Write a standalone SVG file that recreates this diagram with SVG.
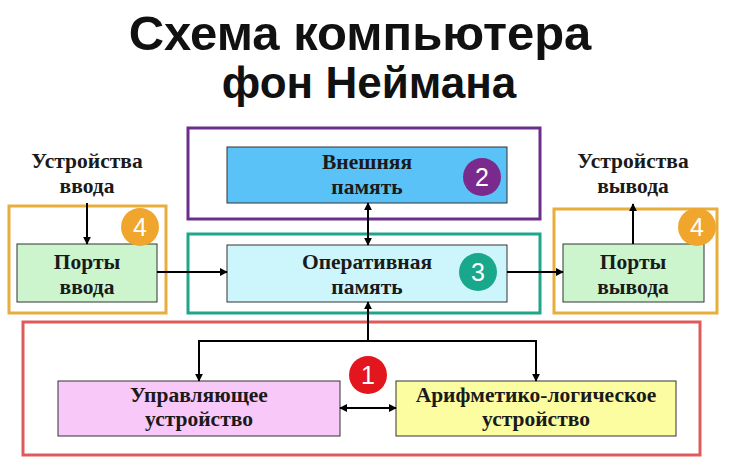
<svg xmlns="http://www.w3.org/2000/svg" width="730" height="470" viewBox="0 0 730 470">
<defs>
<marker id="ah" viewBox="0 0 10 10" refX="9" refY="5" markerWidth="8" markerHeight="8" markerUnits="userSpaceOnUse" orient="auto-start-reverse">
<path d="M0,0 L10,5 L0,10 Z" fill="#000"/>
</marker>
</defs>
<style>
.title{font-family:"Liberation Sans",Arial,sans-serif;font-weight:bold;font-size:49px;fill:#111;text-anchor:middle}
.lbl{font-family:"Liberation Serif","DejaVu Serif","Times New Roman",serif;font-weight:bold;font-size:21.5px;fill:#1a1a1a;text-anchor:middle}
.frame{fill:none;stroke-width:3}
.box{stroke:#333;stroke-width:1}
.badge{font-family:"Liberation Sans",Arial,sans-serif;font-size:25px;fill:#fff;text-anchor:middle}
.conn{stroke:#000;stroke-width:2;fill:none}
</style>
<rect width="730" height="470" fill="#fff"/>
<text class="title" x="360" y="50">Схема компьютера</text>
<text class="title" x="369" y="98" style="font-size:44px">фон Неймана</text>

<g id="cpu-group">
<rect class="frame" x="23" y="322" width="677" height="133" stroke="#E05A5A"/>
</g>
<g id="ext-mem-group">
<rect class="frame" x="188" y="128" width="352" height="91" stroke="#6B2E8E"/>
</g>
<g id="ram-group">
<rect class="frame" x="188" y="234" width="352" height="79" stroke="#1FA58A"/>
</g>
<g id="in-group">
<rect class="frame" x="9" y="206" width="157" height="107" stroke="#E8AE3C"/>
</g>
<g id="out-group">
<rect class="frame" x="554" y="209" width="163" height="104" stroke="#E8AE3C"/>
</g>

<g id="ext-mem">
<rect class="box" x="227" y="147" width="280" height="56" fill="#5BC2F7"/>
<text class="lbl" x="367" y="169">Внешняя</text>
<text class="lbl" x="367" y="194">память</text>
</g>
<g id="ram">
<rect class="box" x="227" y="245" width="280" height="57" fill="#CCF6FC"/>
<text class="lbl" x="367" y="269">Оперативная</text>
<text class="lbl" x="367" y="294">память</text>
</g>
<g id="in-ports">
<rect class="box" x="17" y="244" width="140" height="58" fill="#CDF5CD"/>
<text class="lbl" x="87" y="269">Порты</text>
<text class="lbl" x="87" y="294">ввода</text>
</g>
<g id="out-ports">
<rect class="box" x="563" y="244" width="141" height="58" fill="#CDF5CD"/>
<text class="lbl" x="633" y="269">Порты</text>
<text class="lbl" x="633" y="294">вывода</text>
</g>
<g id="control-unit">
<rect class="box" x="58" y="381" width="282" height="55" fill="#F8C8F8"/>
<text class="lbl" x="199" y="402">Управляющее</text>
<text class="lbl" x="199" y="426">устройство</text>
</g>
<g id="alu">
<rect class="box" x="396" y="381" width="280" height="55" fill="#FCFCA0"/>
<text class="lbl" x="536" y="402">Арифметико-логическое</text>
<text class="lbl" x="536" y="426">устройство</text>
</g>
<g id="input-devices">
<text class="lbl" x="87" y="168">Устройства</text>
<text class="lbl" x="87" y="193">ввода</text>
</g>
<g id="output-devices">
<text class="lbl" x="633" y="168">Устройства</text>
<text class="lbl" x="633" y="193">вывода</text>
</g>

<g id="badges">
<g id="badge-1"><circle cx="368" cy="375" r="19" fill="#E3161E"/><text class="badge" x="368" y="384">1</text></g>
<g id="badge-2"><circle cx="482" cy="177" r="19" fill="#7A2A8C"/><text class="badge" x="482" y="186">2</text></g>
<g id="badge-3"><circle cx="478" cy="272" r="19" fill="#19A88B"/><text class="badge" x="478" y="281">3</text></g>
<g id="badge-4a"><circle cx="140" cy="227" r="19" fill="#F0A62C"/><text class="badge" x="140" y="236">4</text></g>
<g id="badge-4b"><circle cx="697" cy="227" r="19" fill="#F0A62C"/><text class="badge" x="697" y="236">4</text></g>
</g>

<g id="connectors">
<line class="conn" x1="87" y1="203" x2="87" y2="244" marker-end="url(#ah)"/>
<line class="conn" x1="633" y1="244" x2="633" y2="204" marker-end="url(#ah)"/>
<line class="conn" x1="157" y1="272" x2="227" y2="272" marker-end="url(#ah)"/>
<line class="conn" x1="507" y1="272" x2="563" y2="272" marker-end="url(#ah)"/>
<line class="conn" x1="368" y1="203" x2="368" y2="245" marker-start="url(#ah)" marker-end="url(#ah)"/>
<line class="conn" x1="368" y1="341" x2="368" y2="302" marker-end="url(#ah)"/>
<polyline class="conn" points="199,381 199,341 536,341 536,381" marker-start="url(#ah)" marker-end="url(#ah)"/>
<line class="conn" x1="340" y1="408" x2="396" y2="408" marker-start="url(#ah)" marker-end="url(#ah)"/>
</g>
</svg>
